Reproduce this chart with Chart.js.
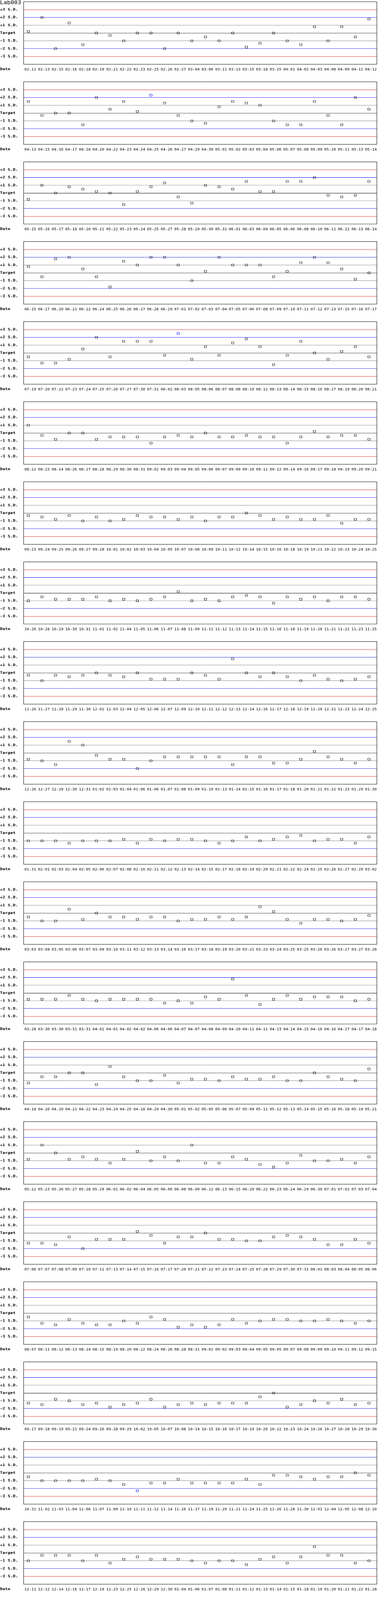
<!DOCTYPE html>
<html>
<head>
<meta charset="utf-8">
<script src="https://cdn.jsdelivr.net/npm/chart.js@4.4.1/dist/chart.umd.min.js"></script>
<style>
html, body { margin: 0; padding: 0; background: #ffffff; overflow: hidden; }
canvas { display: block; }
</style>
</head>
<body>
<div id="wrap"></div>
<script>
const chartTitle = 'Lab003';
const xAxisLabel = 'Date';
const sdTickValues = [3, 2, 1, 0, -1, -2, -3];
const sdTickLabels = ['+3 S.D.', '+2 S.D.', '+1 S.D.', 'Target', '-1 S.D.', '-2 S.D.', '-3 S.D.'];

const dates01 = ['02-11','02-13','02-15','02-16','02-18','02-19','02-21','02-22','02-23','02-25','02-26','02-27','03-04','03-06','03-11','03-13','03-15','03-18','03-25','04-01','04-02','04-03','04-08','04-09','04-11','04-12'];
const values01 = [0.2,2,-2,1.3,-1.5,0,-0.3,-1,0,0,-2,0,-1,-0.5,-1,0,-1.8,-1.3,0,-1,-1.5,0.8,-1,0.8,-0.5,1.8];

const dates02 = ['04-13','04-15','04-16','04-17','04-18','04-20','04-22','04-23','04-24','04-25','04-26','04-27','04-29','04-30','05-01','05-02','05-03','05-04','05-06','05-07','05-08','05-09','05-10','05-11','05-13','05-14'];
const values02 = [1.5,-0.3,0,0,-1.5,2,0.5,1.5,0.2,2.3,1.3,-0.3,-1,-1.3,0.8,1.5,1.3,1,-1,-1.5,-1.5,1.5,-0.3,-1.5,2,0.5];

const dates03 = ['05-15','05-16','05-17','05-18','05-20','05-21','05-22','05-23','05-24','05-25','05-27','05-28','05-29','05-30','05-31','06-01','06-03','06-04','06-05','06-06','06-08','06-10','06-11','06-12','06-13','06-14'];
const values03 = [-0.8,1,0,0.8,0.5,0.2,0,-1.5,0.2,0.8,1.3,-0.5,-1.3,1,0.8,0.5,1.5,0.2,0.2,1.5,1.5,2,-0.3,-0.5,-0.3,1.5];

const dates04 = ['06-15','06-17','06-20','06-21','06-22','06-24','06-25','06-26','06-27','06-28','06-29','07-01','07-02','07-03','07-04','07-05','07-06','07-08','07-09','07-10','07-11','07-12','07-13','07-15','07-16','07-17'];
const values04 = [0.8,-0.5,1.8,2,0.5,-0.5,-1.8,1.5,1,2,2,1,-1,0.2,2,1,1,1,-0.5,0.2,1.3,2,1.3,0.5,-0.8,0];

const dates05 = ['07-19','07-20','07-22','07-23','07-24','07-25','07-26','07-27','07-30','07-31','08-02','08-03','08-05','08-06','08-07','08-08','08-10','08-12','08-13','08-14','08-15','08-16','08-17','08-19','08-20','08-21'];
const values05 = [-0.5,-1.3,-1.3,-0.8,0.5,2,-0.5,1.5,1.5,1.5,-0.3,2.5,-0.8,0.8,-0.3,1.3,1.8,0.8,-1.5,-0.3,1.5,0,-0.8,0.2,0.8,-0.5];

const dates06 = ['08-22','08-23','08-24','08-26','08-27','08-28','08-29','08-30','08-31','09-02','09-03','09-04','09-05','09-06','09-07','09-09','09-10','09-11','09-12','09-14','09-16','09-17','09-18','09-19','09-20','09-21'];
const values06 = [1,-0.3,-0.8,0,0,-0.8,-0.5,-0.5,-0.5,-1.3,-0.5,-0.3,-0.5,0,-0.5,-0.5,-0.3,-0.5,-0.5,-1.3,-0.5,0.2,-0.5,-0.3,-0.3,-0.8];

const dates07 = ['09-23','09-24','09-25','09-26','09-27','09-28','10-01','10-02','10-03','10-04','10-05','10-07','10-08','10-09','10-11','10-12','10-14','10-15','10-16','10-18','10-19','10-21','10-22','10-23','10-24','10-25'];
const values07 = [-0.3,-0.5,-0.8,-0.3,-1,-0.5,-1,-0.8,-0.3,-0.5,-0.5,-0.8,-0.5,-1,-0.5,-0.5,0,-0.3,-0.8,-0.5,-0.8,-0.8,-0.3,-1.3,-0.8,-0.8];

const dates08 = ['10-26','10-28','10-29','10-30','10-31','11-01','11-02','11-04','11-05','11-06','11-07','11-08','11-09','11-11','11-12','11-13','11-14','11-15','11-16','11-18','11-19','11-20','11-21','11-22','11-23','11-25'];
const values08 = [-1,-0.5,-0.8,-0.8,-0.8,-0.5,-1,-0.8,-1,-0.8,-0.5,0.2,-1,-0.8,-1,-0.5,-0.3,-0.5,-1.3,-0.5,-0.8,-0.5,-1,-0.5,-0.5,-0.8];

const dates09 = ['11-26','11-27','11-28','11-29','11-30','12-02','12-03','12-04','12-05','12-06','12-07','12-09','12-10','12-11','12-12','12-13','12-14','12-16','12-17','12-18','12-19','12-20','12-21','12-23','12-24','12-25'];
const values09 = [-0.3,-1,-0.3,-0.5,-0.3,0,-0.3,-0.5,0,-0.8,-0.8,-0.8,0,-0.3,-0.8,1.8,0,-0.5,0,-0.5,-1,-0.3,-0.8,-1,-0.8,-0.5];

const dates10 = ['12-26','12-27','12-28','12-30','12-31','01-02','01-03','01-04','01-06','01-06','01-07','01-08','01-09','01-10','01-13','01-14','01-15','01-16','01-17','01-18','01-20','01-21','01-22','01-23','01-29','01-30'];
const values10 = [-0.8,-1,-1.5,1.5,1,-0.3,-0.8,-0.8,-2,-1,-0.5,-0.5,-0.5,-0.5,-0.5,-1.5,-0.5,-0.5,-1.3,-1.3,-0.8,0.2,-0.5,-0.8,-1.3,-0.8];

const dates11 = ['01-31','02-01','02-03','02-04','02-05','02-06','02-07','02-08','02-10','02-11','02-12','02-13','02-14','02-15','02-17','02-18','02-19','02-20','02-21','02-22','02-24','02-25','02-26','02-27','02-29','03-02'];
const values11 = [-1,-1,-1,-1.3,-1,-1,-1,-0.8,-1.3,-0.8,-1,-0.8,-0.8,-1,-1.3,-1,-0.5,-1,-0.8,-0.5,-0.3,-1,-0.8,-0.8,-1.3,-0.5];

const dates12 = ['03-03','03-04','03-05','03-06','03-07','03-09','03-10','03-11','03-12','03-13','03-14','03-16','03-17','03-18','03-19','03-20','03-21','03-23','03-24','03-25','03-25','03-26','03-26','03-27','03-27','03-28'];
const values12 = [-0.5,-1,-1,0.5,-0.8,0,-0.5,-0.5,-0.8,-0.5,-0.5,-1,-0.8,-0.8,-0.5,-0.8,-0.5,0.8,0.2,-0.8,-1.3,-0.8,-0.8,-1,-0.8,-0.3];

const dates13 = ['03-28','03-30','03-30','03-31','03-31','04-01','04-01','04-02','04-02','04-06','04-06','04-07','04-07','04-08','04-09','04-10','04-11','04-11','04-13','04-14','04-15','04-16','04-16','04-17','04-17','04-18'];
const values13 = [-0.8,-0.8,-0.8,-0.3,-0.8,-1,-0.8,-0.8,-0.8,-0.8,-1.3,-1,-1.3,-0.5,-0.8,1.8,-0.3,-1.5,-0.8,-0.3,-0.8,-0.5,-0.5,-0.5,-1,-0.8];

const dates14 = ['04-18','04-20','04-20','04-21','04-22','04-23','04-24','04-25','04-28','04-29','04-30','05-01','05-02','05-05','05-06','05-07','05-09','05-11','05-12','05-13','05-14','05-15','05-16','05-18','05-19','05-21'];
const values14 = [-1.3,-0.5,-0.5,0,0,-1.5,0.8,-0.5,-1,-1,-0.3,-1.3,-0.8,-0.8,-1,-0.5,-0.8,-0.8,-0.5,-1,-1,0,-0.5,-0.8,-1,0.5];

const dates15 = ['05-22','05-23','05-26','05-27','05-28','05-29','06-01','06-02','06-04','06-05','06-06','06-08','06-09','06-12','06-13','06-15','06-20','06-22','06-23','06-24','06-29','06-30','07-01','07-02','07-03','07-04'];
const values15 = [-0.8,1,0,-0.8,-0.5,-0.8,-1.3,-0.8,0.2,-1,-0.5,-1,1,-1.3,-1.3,-0.5,-0.8,-1.5,-1.8,-1.3,-0.3,-1,-1,-0.8,-1.3,-0.5];

const dates16 = ['07-06','07-07','07-08','07-09','07-10','07-11','07-13','07-14','07-15','07-16','07-17','07-20','07-21','07-22','07-23','07-24','07-25','07-28','07-29','07-30','07-31','08-01','08-03','08-04','08-05','08-06'];
const values16 = [-1.3,-1.3,-1.5,-0.5,-2,-0.8,-0.8,-0.8,0.2,-0.3,-1.3,-0.5,-0.5,0,-0.8,-0.8,-1,-1,-0.5,-0.3,-0.5,-0.8,-1.5,-1.5,-0.8,-1.3];

const dates17 = ['08-07','08-11','08-12','08-13','08-14','08-15','08-19','08-20','08-22','08-24','08-26','08-28','08-31','09-01','09-02','09-03','09-04','09-05','09-05','09-07','09-08','09-09','09-10','09-11','09-12','09-15'];
const values17 = [-0.5,-1.3,-1.5,-0.8,-1.3,-1.5,-1.5,-1,-1.3,-0.5,-0.8,-1.8,-1.5,-1.8,-1.5,-0.8,-1.3,-1,-0.8,-0.8,-1,-1,-0.8,-1,-1.3,-1];

const dates18 = ['09-17','09-18','09-19','09-21','09-24','09-26','09-28','09-29','10-02','10-05','10-07','10-08','10-14','10-15','10-16','10-17','10-19','10-20','10-22','10-23','10-24','10-26','10-27','10-28','10-29','10-30'];
const values18 = [-1.3,-1.5,-0.8,-1,-1.5,-1.3,-1.8,-1.5,-1.3,-0.8,-1.8,-1.5,-1.3,-1.5,-1.3,-1.3,-1.3,-0.5,0,-1.8,-1.5,-1,-1.3,-0.8,-1.5,-1.3];

const dates19 = ['10-31','11-02','11-03','11-04','11-06','11-07','11-09','11-10','11-11','11-12','11-14','11-16','11-17','11-19','11-20','11-21','11-24','11-25','11-26','11-28','11-30','12-01','12-04','12-05','12-08','12-10'];
const values19 = [-0.5,-1,-1,-1,-1,-0.8,-1,-1.5,-2.3,-1.3,-1.3,-0.8,-1.3,-1.3,-1.3,-1.3,-0.8,-1.5,-0.3,-0.3,-0.5,-0.8,-0.5,-0.5,0,-0.3];

const dates20 = ['12-11','12-12','12-14','12-16','12-17','12-19','12-23','12-25','12-28','12-29','12-30','01-04','01-06','01-07','01-08','01-11','01-12','01-13','01-14','01-15','01-18','01-19','01-20','01-21','01-22','01-28'];
const values20 = [-1,-0.3,-0.3,-0.3,-1,-0.3,-1.3,-0.8,-0.5,-0.8,-0.8,-0.8,-1,-1.3,-1,-1,-1.5,-0.8,-0.5,-1.3,-0.5,0.8,-0.3,-0.3,-1.3,-1];

const panelDates = [dates01, dates02, dates03, dates04, dates05, dates06, dates07, dates08, dates09, dates10,
                    dates11, dates12, dates13, dates14, dates15, dates16, dates17, dates18, dates19, dates20];
const panelValues = [values01, values02, values03, values04, values05, values06, values07, values08, values09, values10,
                     values11, values12, values13, values14, values15, values16, values17, values18, values19, values20];

const MONO = '"DejaVu Sans Mono", "Liberation Mono", monospace';

function limitColor(v) {
  const a = Math.abs(v);
  if (a === 3) return '#cc0000';
  if (a === 2) return '#0000ff';
  if (a === 1) return '#808080';
  return '#000000';
}

const panelTextPlugin = {
  id: 'panelText',
  afterDraw(chart, args, opts) {
    const ctx = chart.ctx;
    ctx.save();
    ctx.fillStyle = '#000000';
    ctx.textAlign = 'left';
    ctx.textBaseline = 'alphabetic';
    if (opts.title) {
      ctx.font = '15px ' + MONO;
      ctx.fillText(opts.title, 0, 13);
    }
    ctx.font = 'bold 11px ' + MONO;
    ctx.fillText(xAxisLabel, 0, 219);
    ctx.restore();
  }
};

// The whole stack of panels is designed for a 970x5000 page; if the visible
// window is shorter, each panel canvas is shown slightly shorter so that all
// of them stay in view.
const viewH = window.innerHeight || 5000;
const panelCssHeight = Math.min(250, viewH / panelDates.length);

const wrap = document.getElementById('wrap');
panelDates.forEach((dates, p) => {
  const values = panelValues[p];
  const canvas = document.createElement('canvas');
  canvas.width = 970;
  canvas.height = 250;
  canvas.style.width = '970px';
  canvas.style.height = panelCssHeight + 'px';
  wrap.appendChild(canvas);

  new Chart(canvas, {
    type: 'scatter',
    data: {
      datasets: [{
        data: values.map((v, i) => ({ x: i, y: v })),
        xAxisID: 'x',
        yAxisID: 'y',
        showLine: false,
        pointStyle: 'rect',
        pointRadius: 3 * Math.SQRT2,
        pointHoverRadius: 3 * Math.SQRT2,
        pointBorderWidth: 1,
        pointBackgroundColor: 'rgba(0,0,0,0)',
        pointBorderColor: (c) => (c.raw && Math.abs(c.raw.y) > 2 ? '#0000ff' : '#000000')
      }]
    },
    options: {
      responsive: false,
      animation: false,
      devicePixelRatio: 1,
      events: [],
      layout: { padding: { left: 0, top: 0, right: 2, bottom: 0 } },
      plugins: {
        legend: { display: false },
        tooltip: { enabled: false },
        panelText: { title: p === 0 ? chartTitle : '' }
      },
      scales: {
        x: {
          type: 'linear',
          position: 'bottom',
          min: -12.5 / 35,
          max: (908 - 12.5) / 35,
          afterBuildTicks: (s) => { s.ticks = dates.map((d, i) => ({ value: i })); },
          afterFit: (s) => { s.height = 50; s.paddingLeft = 0; s.paddingRight = 0; },
          grid: { display: false, drawTicks: false },
          border: { display: true, color: '#000000', width: 1 },
          ticks: {
            autoSkip: false, maxRotation: 0, minRotation: 0,
            padding: 11, labelOffset: 5, color: '#000000',
            font: { family: MONO, size: 10 },
            callback: (v) => dates[v]
          }
        },
        xTop: {
          type: 'linear',
          axis: 'x',
          position: 'top',
          grid: { display: false, drawTicks: false },
          border: { display: true, color: '#000000', width: 1 },
          ticks: { display: false },
          afterFit: (s) => { s.height = 0; s.paddingLeft = 0; s.paddingRight = 0; }
        },
        y: {
          type: 'linear',
          position: 'left',
          min: -3.98,
          max: 4.02,
          afterBuildTicks: (s) => { s.ticks = sdTickValues.map((v) => ({ value: v })); },
          afterFit: (s) => { s.width = 60; s.paddingTop = 0; s.paddingBottom = 0; },
          grid: {
            drawTicks: false,
            lineWidth: 1,
            color: (c) => limitColor(c.tick.value)
          },
          border: { display: true, color: '#000000', width: 1 },
          ticks: {
            crossAlign: 'far', padding: 0, color: '#000000',
            font: { family: MONO, size: 11, weight: 'bold' },
            callback: (v) => sdTickLabels[sdTickValues.indexOf(v)]
          }
        },
        yRight: {
          type: 'linear',
          axis: 'y',
          position: 'right',
          grid: { display: false, drawTicks: false },
          border: { display: true, color: '#000000', width: 1 },
          ticks: { display: false },
          afterFit: (s) => { s.width = 0; s.paddingTop = 0; s.paddingBottom = 0; }
        }
      }
    },
    plugins: [panelTextPlugin]
  });
});
</script>
</body>
</html>
